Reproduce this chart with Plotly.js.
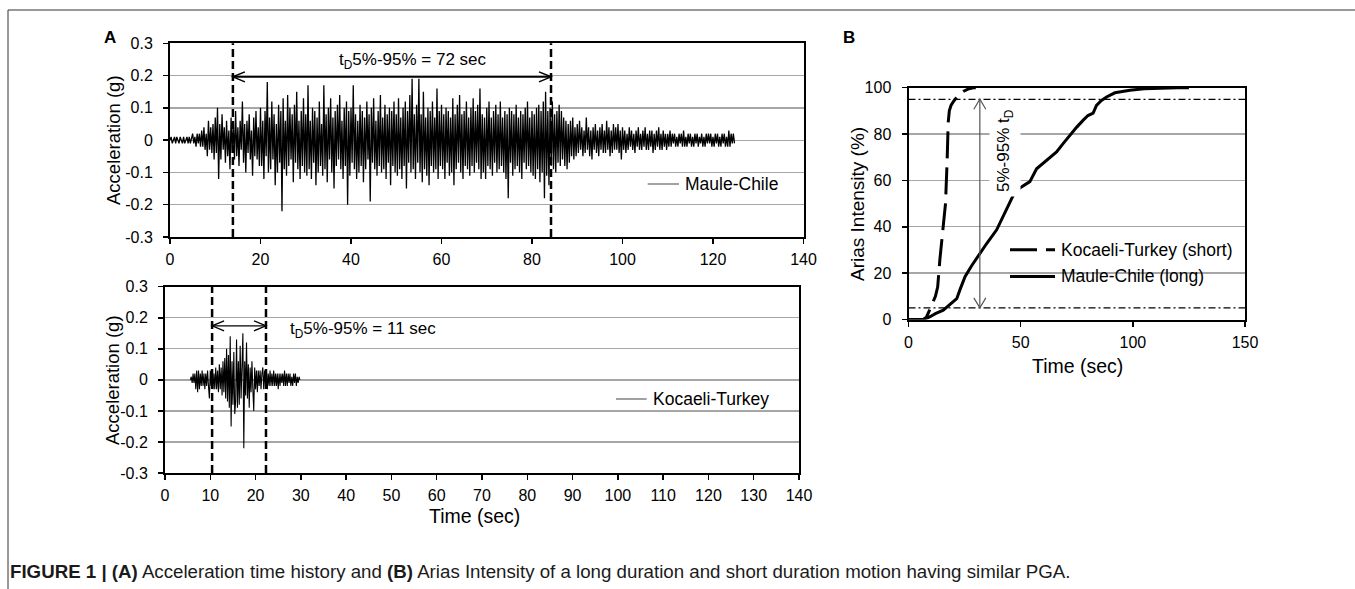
<!DOCTYPE html>
<html><head><meta charset="utf-8">
<script src="https://cdn.plot.ly/plotly-3.0.1.min.js"></script>
<style>html,body{margin:0;padding:0;background:#fff;}#chart{width:1355px;height:589px;}</style>
</head><body><div id="chart"></div>
<script>
// ---------------- DATA ----------------
// Maule-Chile acceleration record, centi-g, sampled every 0.25 s from t = 0 s
const mauleStart = 0, mauleDt = 0.25;
const maule_cg = [
 0,1,-1,0,1,-1,1,0,-1,1, 0,-1,1,-1,0,1,-1,1,-1,1, 2,-1,1,-2,2,-1,2,-2,3,-2, 4,-3,2,-5,6,-3,4,-4,5,-6,
 7,-4,10,-12,5,-6,8,-3,4,-7, 6,-5,3,-9,7,-4,5,-6,9,-5, 4,-8,6,-3,12,-7,5,-10,6,-4, 8,-6,3,-11,7,-5,9,-6,4,-8,
 10,-8,6,-12,9,-5,18,-10,7,-9, 12,-6,8,-14,5,-10,11,-7,9,-22, 13,-9,6,-11,14,-8,10,-6,8,-13, 11,-7,15,-9,6,-12,9,-8,13,-10,
 8,-11,17,-9,6,-12,10,-7,9,-14, 7,-10,12,-8,5,-11,17,-9,8,-13, 10,-6,13,-10,7,-15,9,-8,11,-6, 14,-9,6,-12,10,-8,12,-20,9,-11,
 10,-7,17,-9,8,-12,6,-10,11,-8, 9,-13,7,-9,12,-6,8,-19,10,-7, 13,-9,6,-11,9,-8,14,-10,7,-9, 11,-12,8,-7,10,-14,9,-8,12,-10,
 8,-11,13,-9,7,-12,10,-8,12,-15, 9,-7,14,-10,19,-9,8,-12,11,-7, 19,-10,8,-13,15,-9,7,-11,10,-14, 9,-8,12,-10,7,-9,16,-12,9,-8,
 11,-9,8,-12,10,-7,9,-11,7,-10, 13,-14,8,-9,11,-7,14,-10,8,-12, 9,-8,12,-9,7,-11,10,-8,13,-10, 9,-7,11,-9,16,-12,8,-10,7,-12,
 10,-8,12,-9,7,-11,9,-7,11,-10, 8,-9,12,-8,7,-10,9,-12,8,-18, 10,-7,9,-11,8,-9,11,-8,7,-10, 9,-12,8,-7,10,-9,12,-8,7,-10,
 9,-11,8,-12,10,-9,11,-13,9,-10, 12,-18,15,-11,9,-14,10,-8,12,-9, 8,-10,9,-7,11,-8,9,-6,7,-8, 6,-9,5,-7,6,-5,7,-6,4,-5,
 5,-4,6,-3,4,-5,3,-4,7,-3, 4,-5,3,-6,4,-3,5,-4,3,-5, 4,-3,5,-4,3,-4,6,-3,4,-5, 3,-4,5,-3,4,-3,5,-4,3,-6,
 4,-3,3,-4,2,-3,4,-2,3,-3, 2,-4,3,-2,4,-3,2,-3,3,-2, 4,-3,2,-3,3,-2,3,-4,2,-3, 3,-2,4,-3,2,-3,3,-2,2,-3,
 2,-2,3,-2,2,-1,2,-2,1,-2, 2,-1,2,-2,3,-2,1,-2,2,-1, 2,-2,1,-2,2,-1,2,-2,1,-1, 2,-2,1,-2,2,-1,2,-1,2,-2, 1,-2,2,-1,2,-2,1,-2,2,-1, 2,-2,1,-2,3,-2,2,-1,2,-1
];
// Kocaeli-Turkey acceleration record, centi-g, sampled every 0.2 s from t = 5.6 s
const kocaeliStart = 5.6, kocaeliDt = 0.2;
const kocaeli_cg = [
 0,1,-1,2,-1,2,-3,3,-4,3, -3,2,-2,3,-2,2,-3,2,-2,3, -2,-6,3,-2,3,-3,2,-3,4,-3,
 3,-4,5,-3,4,-5,6,-4,7,-6, 10,-7,8,-9,14,-15,6,-8,9,-11, -7,13,-9,6,-8,11,-6,9,15,-22,
 6,-5,12,-6,5,-9,4,-4,6,-3, -10,4,-3,3,-4,3,-2,3,-3,2, 4,-3,3,-2,3,-3,2,-2,3,-2,
 2,-2,3,-2,2,-2,2,-3,2,-2, 2,-1,2,-2,3,-2,2,-2,2,-1, 2,-2,1,-2,2,-1,2,-2,1,-1,1,0
];
// Arias intensity build-up (%)
const ariasKocaeliT = [0,6.5,8,9,10,11,12,13,14,15,16,16.5,17.2,17.7,18.2,19,20,22,24.4,26.5,28.9,30];
const ariasKocaeliV = [0,0,1,3,5,7.7,10,14,26,36,45,50,68,85,90,92.5,94,96.5,98.4,99.4,100,100];
const ariasMauleT = [0,7,9.6,12,15.5,18,21.5,23,25.2,28,31.8,35,39.3,42,45.2,47.4,50,54.1,57.1,60,63,66,69,72,75,77.9,80,82.3,83.8,86,88.3,92,98.7,105,112,120,125];
const ariasMauleV = [0,0,1.2,2.5,4,6,9,13,18.5,23,28.6,33,38.7,44,50,55,57,59.5,65,67.5,70,72.3,76,79.7,83,86,88,89,92.4,94.5,96,97.8,98.9,99.5,99.8,100,100];
// duration markers (s) and Arias levels (%)
const longDuration = [13.9, 84.2];
const shortDuration = [10.4, 22.3];
const ariasLevels = [5, 95];
const ariasArrowT = 31.8;
// tick labels
const accTickVals = [-0.3,-0.2,-0.1,0,0.1,0.2,0.3];
const accTickText = ['-0.3','-0.2','-0.1','0','0.1','0.2','0.3'];
const timeTicksTop = [0,20,40,60,80,100,120,140];
const timeTicksBottom = [0,10,20,30,40,50,60,70,80,90,100,110,120,130,140];
const ariasYTicks = [0,20,40,60,80,100];
const ariasXTicks = [0,50,100,150];

// ---------------- LAYOUT HELPERS ----------------
const W = 1355, H = 589;
const px = x => x / W, py = y => 1 - y / H;
const FONT = 'Liberation Sans, Arial, Helvetica, sans-serif';
const toG = a => a.map(v => v / 100);

const traces = [
  {x0: mauleStart, dx: mauleDt, y: toG(maule_cg), xaxis: 'x', yaxis: 'y', mode: 'lines',
   line: {color: '#000', width: 1.3}, name: 'Maule-Chile', showlegend: false, hoverinfo: 'skip'},
  {x0: kocaeliStart, dx: kocaeliDt, y: toG(kocaeli_cg), xaxis: 'x2', yaxis: 'y2', mode: 'lines',
   line: {color: '#000', width: 1.1}, name: 'Kocaeli-Turkey', showlegend: false, hoverinfo: 'skip'},
  {x: ariasKocaeliT, y: ariasKocaeliV, xaxis: 'x3', yaxis: 'y3', mode: 'lines',
   line: {color: '#000', width: 3, dash: '27px,9px'}, name: 'Kocaeli-Turkey (short)', showlegend: false},
  {x: ariasMauleT, y: ariasMauleV, xaxis: 'x3', yaxis: 'y3', mode: 'lines',
   line: {color: '#000', width: 3}, name: 'Maule-Chile (long)', showlegend: false}
];

const axBase = {showline: true, linecolor: '#000', linewidth: 2, mirror: true, ticks: 'outside',
  ticklen: 5, tickwidth: 1.5, tickcolor: '#000', zeroline: false, fixedrange: true,
  tickfont: {family: FONT, size: 16, color: '#000'}};
const grid = {showgrid: true, gridcolor: '#a6a6a6', gridwidth: 1.3};

const layout = {
  width: W, height: H, margin: {l: 0, r: 0, t: 0, b: 0},
  paper_bgcolor: '#fff', plot_bgcolor: '#fff', showlegend: false,
  font: {family: FONT, color: '#000'},
  xaxis: Object.assign({}, axBase, {domain: [px(170), px(803.5)], range: [0, 140], tickmode: 'array',
    tickvals: timeTicksTop, showgrid: false, anchor: 'y', ticklabelstandoff: 2}),
  yaxis: Object.assign({}, axBase, grid, {domain: [py(237), py(43.3)], range: [-0.3, 0.3], tickmode: 'array',
    tickvals: accTickVals, ticktext: accTickText, anchor: 'x', ticklabelstandoff: 7}),
  xaxis2: Object.assign({}, axBase, {domain: [px(165), px(799)], range: [0, 140], tickmode: 'array',
    tickvals: timeTicksBottom, showgrid: false, anchor: 'y2', ticklabelstandoff: 2}),
  yaxis2: Object.assign({}, axBase, grid, {domain: [py(473), py(286.7)], range: [-0.3, 0.3], tickmode: 'array',
    tickvals: accTickVals, ticktext: accTickText, anchor: 'x2', ticklabelstandoff: 7}),
  xaxis3: Object.assign({}, axBase, {domain: [px(908.5), px(1245)], range: [0, 150], tickmode: 'array',
    tickvals: ariasXTicks, showgrid: false, anchor: 'y3', ticklabelstandoff: 2}),
  yaxis3: Object.assign({}, axBase, grid, {domain: [py(319.5), py(87.7)], range: [0, 100], tickmode: 'array',
    tickvals: ariasYTicks, anchor: 'x3', ticklabelstandoff: 7}),
  shapes: [],
  annotations: []
};

const S = layout.shapes, A = layout.annotations;
// figure frame
S.push({type: 'line', xref: 'paper', yref: 'paper', x0: px(8), x1: px(8), y0: 0, y1: py(10), line: {color: '#333', width: 1}});
S.push({type: 'line', xref: 'paper', yref: 'paper', x0: px(8), x1: 1, y0: py(10), y1: py(10), line: {color: '#333', width: 1}});

// duration markers (dashed verticals)
longDuration.forEach(t => S.push({type: 'line', xref: 'x', yref: 'y domain', x0: t, x1: t, y0: 0, y1: 1,
  line: {color: '#000', width: 2.5, dash: '8px,4px'}}));
shortDuration.forEach(t => S.push({type: 'line', xref: 'x2', yref: 'y2 domain', x0: t, x1: t, y0: 0, y1: 1,
  line: {color: '#000', width: 2.5, dash: '8px,4px'}}));

// double arrows
function hArrow(xr, yr, t0, t1, yv, w) {
  S.push({type: 'line', xref: xr, yref: yr, x0: t0, x1: t1, y0: yv, y1: yv, line: {color: '#000', width: w}});
  S.push({type: 'path', xref: xr, yref: yr, xsizemode: 'pixel', ysizemode: 'pixel', xanchor: t0, yanchor: yv,
    path: 'M 12,5 L 0,0 L 12,-5', line: {color: '#000', width: w}});
  S.push({type: 'path', xref: xr, yref: yr, xsizemode: 'pixel', ysizemode: 'pixel', xanchor: t1, yanchor: yv,
    path: 'M -12,5 L 0,0 L -12,-5', line: {color: '#000', width: w}});
}
hArrow('x', 'y', longDuration[0], longDuration[1], 0.196, 1.6);
hArrow('x2', 'y2', shortDuration[0], shortDuration[1], 0.174, 1.3);

// Arias 5% / 95% levels
ariasLevels.forEach(v => S.push({type: 'line', xref: 'x3 domain', yref: 'y3', x0: 0, x1: 1, y0: v, y1: v,
  line: {color: '#000', width: 1.3, dash: '7px,3px,2px,3px'}}));
// vertical double arrow
S.push({type: 'line', xref: 'x3', yref: 'y3', x0: ariasArrowT, x1: ariasArrowT, y0: ariasLevels[0], y1: ariasLevels[1],
  line: {color: '#555', width: 1.2}});
S.push({type: 'path', xref: 'x3', yref: 'y3', xsizemode: 'pixel', ysizemode: 'pixel', xanchor: ariasArrowT, yanchor: ariasLevels[1],
  path: 'M -6,-10 L 0,0 L 6,-10', line: {color: '#555', width: 1.2}});
S.push({type: 'path', xref: 'x3', yref: 'y3', xsizemode: 'pixel', ysizemode: 'pixel', xanchor: ariasArrowT, yanchor: ariasLevels[0],
  path: 'M -6,10 L 0,0 L 6,10', line: {color: '#555', width: 1.2}});

// legend of panel B: white box + samples
S.push({type: 'rect', xref: 'paper', yref: 'paper', x0: px(1003), x1: px(1240), y0: py(291), y1: py(236),
  fillcolor: '#fff', line: {width: 0}, layer: 'between'});
S.push({type: 'line', xref: 'paper', yref: 'paper', x0: px(1010), x1: px(1055), y0: py(249.7), y1: py(249.7),
  line: {color: '#000', width: 3, dash: '27px,9px'}});
S.push({type: 'line', xref: 'paper', yref: 'paper', x0: px(1010), x1: px(1055), y0: py(276.5), y1: py(276.5),
  line: {color: '#000', width: 3}});
// legend samples of panel A
S.push({type: 'line', xref: 'paper', yref: 'paper', x0: px(647.7), x1: px(679), y0: py(184), y1: py(184),
  line: {color: '#444', width: 1}});
S.push({type: 'line', xref: 'paper', yref: 'paper', x0: px(616), x1: px(646.7), y0: py(399), y1: py(399),
  line: {color: '#444', width: 1}});

function txt(text, x, y, opts) {
  A.push(Object.assign({text: text, xref: 'paper', yref: 'paper', x: px(x), y: py(y), showarrow: false,
    xanchor: 'center', yanchor: 'middle', font: {family: FONT, size: 17.5, color: '#000'}}, opts || {}));
}
// panel letters
txt('<b>A</b>', 110, 37.5, {font: {family: FONT, size: 17, color: '#000'}});
txt('<b>B</b>', 849, 37.5, {font: {family: FONT, size: 17, color: '#000'}});
// axis titles
txt('Acceleration (g)', 113, 140, {textangle: -90, font: {family: FONT, size: 18.5, color: '#000'}});
txt('Acceleration (g)', 112, 380, {textangle: -90, font: {family: FONT, size: 18.5, color: '#000'}});
txt('Time (sec)', 474, 515.5, {font: {family: FONT, size: 19.5, color: '#000'}});
txt('Arias Intensity (%)', 858, 204, {textangle: -90, font: {family: FONT, size: 19, color: '#000'}});
txt('Time (sec)', 1077, 365.5, {font: {family: FONT, size: 19.5, color: '#000'}});
// legends
txt('Maule-Chile', 683, 184, {xanchor: 'left'});
txt('Kocaeli-Turkey', 651, 399, {xanchor: 'left'});
txt('Kocaeli-Turkey (short)', 1059, 249.7, {xanchor: 'left'});
txt('Maule-Chile (long)', 1059, 276.5, {xanchor: 'left'});
// duration labels
A.push({text: 't<sub>D</sub>5%-95% = 72 sec', xref: 'x', yref: 'y', x: 36.8, y: 0.244, showarrow: false,
  xanchor: 'left', yanchor: 'middle', font: {family: FONT, size: 17, color: '#000'}});
A.push({text: 't<sub>D</sub>5%-95% = 11 sec', xref: 'x2', yref: 'y2', x: 27.2, y: 0.159, showarrow: false,
  xanchor: 'left', yanchor: 'middle', font: {family: FONT, size: 17, color: '#000'}});
txt('5%-95% t<sub>D</sub>', 1005, 150, {textangle: -90, font: {family: FONT, size: 17, color: '#000'},
  bgcolor: '#fff', borderpad: 4});
// caption
txt('<b>FIGURE 1 | (A)</b> Acceleration time history and <b>(B)</b> Arias Intensity of a long duration and short duration motion having similar PGA.',
  8, 571.7, {xanchor: 'left', font: {family: FONT, size: 18.7, color: '#1a1a1a'}});

Plotly.newPlot('chart', traces, layout, {displayModeBar: false, staticPlot: true});
</script></body></html>
